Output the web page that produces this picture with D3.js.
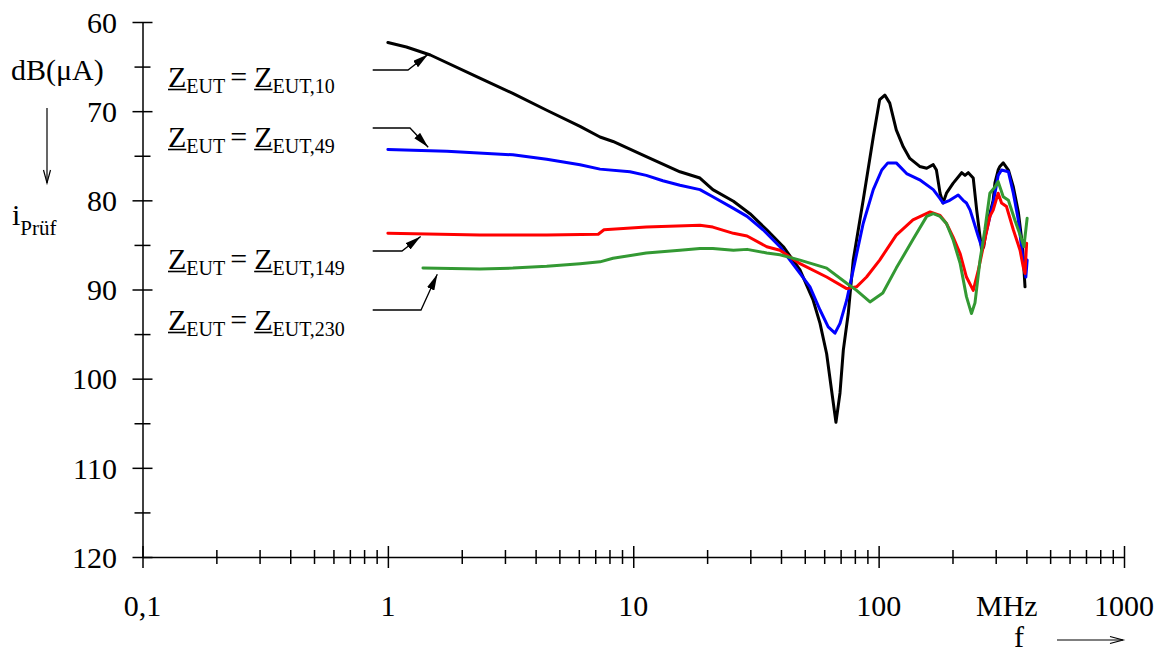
<!DOCTYPE html>
<html>
<head>
<meta charset="utf-8">
<script src="https://cdn.jsdelivr.net/npm/d3@7"></script>
<style>
  html, body { margin: 0; padding: 0; background: #fff; }
  svg { display: block; }
  text { font-family: "Liberation Serif", "Times New Roman", serif; fill: #000; }
</style>
</head>
<body>
<svg id="chart" width="1165" height="654"></svg>
<script>
// ---- Axis ticks -----------------------------------------------------------
const freqMajor = [0.1, 1, 10, 100, 1000];
const freqLabels = ["0,1", "1", "10", "100", "1000"];
const levelMajor = [60, 70, 80, 90, 100, 110, 120];
const levelMinor = [65, 75, 85, 95, 105, 115];

// ---- Measured test current i_Prüf in dB(µA) versus frequency in MHz -------
// Z_EUT = Z_EUT,10
const freqZ10 = [1.0, 1.19, 1.49, 2.37, 3.23, 4.44, 6.07, 7.32, 8.27, 11.3, 15.5, 18.7, 21.1, 25.6, 29.9,
  35.0, 40.9, 47.8, 54.1, 57.7, 61.4, 64.3, 67.0, 69.6, 71.8, 75.2, 78.8, 86.5, 95.1, 101, 106, 111, 118,
  126, 134, 147, 157, 167, 172, 178, 183, 189, 201, 218, 225, 232, 243, 251, 259, 263, 268, 276, 284, 293,
  298, 307, 312, 322, 338, 354, 371, 386, 395];
const levelZ10 = [62.3, 62.8, 63.7, 66.3, 68.0, 69.9, 71.7, 72.9, 73.4, 75.1, 76.8, 77.5, 78.8, 80.1, 81.5,
  83.3, 85.2, 87.8, 91.2, 93.8, 97.2, 101.3, 104.9, 101.6, 96.8, 92.7, 86.7, 80.0, 72.9, 68.7, 68.2, 69.1, 72.1,
  74.0, 75.3, 76.2, 76.4, 76.0, 76.6, 79.2, 80.3, 79.2, 78.1, 76.9, 77.2, 76.9, 77.5, 81.1, 84.1, 85.6, 85.2, 83.0, 81.5, 80.0,
  78.0, 76.6, 76.2, 75.8, 76.6, 78.5, 81.3, 85.2, 89.7];

// Z_EUT = Z_EUT,49
const freqZ49 = [1.0, 1.74, 3.23, 4.44, 6.07, 7.32, 9.70, 11.3, 13.2, 15.5, 18.7, 21.1, 25.6, 29.1, 33.8,
  39.6, 47.8, 52.5, 57.7, 62.3, 66.4, 69.6, 74.1, 78.8, 86.5, 95.1, 103, 109, 118, 130, 147, 167, 178, 183,
  195, 211, 221, 228, 236, 243, 255, 263, 276, 293, 307, 317, 338, 354, 371, 388, 398, 403];
const levelZ49 = [74.3, 74.5, 74.9, 75.4, 76.0, 76.5, 76.8, 77.2, 77.8, 78.3, 78.8, 79.6, 80.9, 81.8, 83.3,
  85.2, 88.2, 89.7, 92.3, 94.2, 94.9, 93.8, 91.2, 87.8, 82.6, 78.8, 76.6, 75.8, 75.8, 77.0, 77.7, 78.8, 79.8, 80.3,
  80.0, 79.4, 80.0, 80.3, 81.1, 82.2, 84.1, 85.2, 83.3, 80.3, 77.2, 76.6, 76.8, 79.2, 82.2, 86.7, 88.6, 86.7];

// Z_EUT = Z_EUT,149
const freqZ149 = [1.0, 2.37, 4.44, 7.2, 7.6, 11.3, 18.7, 21.1, 25.6, 29.1, 35.0, 39.6, 47.8, 61.4, 74.1,
  81.3, 89.3, 101, 118, 138, 162, 178, 189, 201, 215, 228, 243, 255, 267, 284, 293, 307, 317, 332, 354,
  377, 388, 395, 401];
const levelZ149 = [83.7, 83.9, 83.9, 83.8, 83.3, 83.0, 82.8, 83.0, 83.7, 84.0, 85.2, 85.6, 87.1, 88.6, 89.9,
  89.7, 88.6, 86.7, 83.9, 82.2, 81.3, 81.7, 82.6, 84.1, 86.0, 88.6, 90.1, 87.8, 85.2, 81.8, 81.1, 79.2, 80.3, 80.7, 83.3,
  85.6, 87.4, 88.2, 84.8];

// Z_EUT = Z_EUT,230
const freqZ230 = [1.39, 2.37, 3.23, 4.44, 6.07, 7.32, 8.27, 11.3, 15.5, 18.7, 21.1, 25.6, 29.1, 35.0, 39.6,
  47.8, 61.4, 74.1, 81.3, 92.2, 104, 118, 138, 157, 167, 178, 189, 201, 215, 228, 239, 247, 259, 271, 284,
  298, 307, 322, 338, 359, 383, 391, 403];
const levelZ230 = [87.6, 87.7, 87.6, 87.4, 87.1, 86.9, 86.5, 85.9, 85.6, 85.4, 85.4, 85.6, 85.5, 85.9, 86.1,
  86.7, 87.6, 89.3, 90.1, 91.4, 90.4, 87.6, 84.4, 81.8, 81.5, 81.8, 82.6, 84.4, 87.1, 90.8, 92.7, 91.5, 86.7, 83.3, 79.2,
  78.5, 77.9, 79.6, 80.0, 82.2, 84.4, 85.2, 82.0];

const seriesNames = ["10", "49", "149", "230"];
const seriesColors = ["#000000", "#0000ff", "#ff0000", "#339933"];
const seriesFreq = [freqZ10, freqZ49, freqZ149, freqZ230];
const seriesLevel = [levelZ10, levelZ49, levelZ149, levelZ230];

// Leader arrows: frequency where each arrow meets its trace
const arrowFreq = [1.46, 1.46, 1.36, 1.59];

// ---- Scales ---------------------------------------------------------------
const svg = d3.select("#chart");
const x = d3.scaleLog().domain([0.1, 1000]).range([142.5, 1124]);
const y = d3.scaleLinear().domain([60, 120]).range([22, 557]);

const axisColor = "#000";

// ---- X axis (log, ticks crossing the line) --------------------------------
const xMinor = [];
freqMajor.slice(0, -1).forEach(d => d3.range(2, 10).forEach(k => xMinor.push(d * k)));

const gx = svg.append("g").attr("transform", `translate(0,${y(120)})`);
gx.call(d3.axisBottom(x).tickValues(freqMajor).tickSize(11).tickSizeOuter(0).tickFormat(""));
gx.selectAll(".tick line").attr("y1", -11);
const gxm = svg.append("g").attr("transform", `translate(0,${y(120)})`);
gxm.call(d3.axisBottom(x).tickValues(xMinor).tickSize(7).tickSizeOuter(0).tickFormat(""));
gxm.select(".domain").remove();
gxm.selectAll(".tick line").attr("y1", -7);

svg.selectAll(".xlab").data(freqMajor).enter().append("text")
  .attr("class", "xlab")
  .attr("x", d => x(d)).attr("y", 616)
  .attr("text-anchor", "middle").attr("font-size", 30)
  .text((d, i) => freqLabels[i]);

svg.append("text").attr("x", 976).attr("y", 616).attr("font-size", 30).text("MHz");
svg.append("text").attr("x", 1014).attr("y", 647).attr("font-size", 30).text("f");
svg.append("line").attr("x1", 1057).attr("x2", 1123).attr("y1", 640).attr("y2", 640)
  .attr("stroke", axisColor).attr("stroke-width", 1.2);
svg.append("path").attr("d", "M1110,636.5L1123,640L1110,643.5")
  .attr("fill", "none").attr("stroke", axisColor).attr("stroke-width", 1.2);

// ---- Y axis (inverted: 60 on top, 120 at the bottom) ----------------------
const gy = svg.append("g").attr("transform", `translate(${x(0.1)},0)`);
gy.call(d3.axisLeft(y).tickValues(levelMajor).tickSize(10).tickSizeOuter(0).tickFormat(""));
gy.selectAll(".tick line").attr("x1", 10);
const gym = svg.append("g").attr("transform", `translate(${x(0.1)},0)`);
gym.call(d3.axisLeft(y).tickValues(levelMinor).tickSize(8).tickSizeOuter(0).tickFormat(""));
gym.select(".domain").remove();
gym.selectAll(".tick line").attr("x1", 8);

svg.selectAll(".ylab").data(levelMajor).enter().append("text")
  .attr("class", "ylab")
  .attr("x", 117).attr("y", d => y(d)).attr("dy", "0.36em")
  .attr("text-anchor", "end").attr("font-size", 30)
  .text(d => d);

[gx, gxm, gy, gym].forEach(g => {
  g.selectAll("path, line").attr("stroke", axisColor).attr("stroke-width", 1.5);
});

// Axis title
svg.append("text").attr("x", 11).attr("y", 80).attr("font-size", 30).text("dB(\u03BCA)");
svg.append("line").attr("x1", 47).attr("x2", 47).attr("y1", 108).attr("y2", 183)
  .attr("stroke", axisColor).attr("stroke-width", 1.2);
svg.append("path").attr("d", "M43.5,170L47,183L50.5,170")
  .attr("fill", "none").attr("stroke", axisColor).attr("stroke-width", 1.2);
const ti = svg.append("text").attr("x", 12).attr("y", 225).attr("font-size", 30);
ti.append("tspan").text("i");
ti.append("tspan").attr("font-size", 21).attr("dy", 10).text("Pr\u00FCf");

// ---- Traces ---------------------------------------------------------------
const line = d3.line().x(d => x(d[0])).y(d => y(d[1])).curve(d3.curveLinear);
seriesFreq.forEach((fr, i) => {
  const pts = fr.map((f, j) => [f, seriesLevel[i][j]]);
  svg.append("path")
    .attr("d", line(pts))
    .attr("fill", "none")
    .attr("stroke", seriesColors[i])
    .attr("stroke-width", 3)
    .attr("stroke-linejoin", "round")
    .attr("stroke-linecap", "round");
});

// ---- Curve labels with leader arrows --------------------------------------
svg.append("defs").append("marker")
  .attr("id", "head").attr("viewBox", "0 0 16 8")
  .attr("refX", 16).attr("refY", 4)
  .attr("markerWidth", 16).attr("markerHeight", 8)
  .attr("markerUnits", "userSpaceOnUse").attr("orient", "auto")
  .append("path").attr("d", "M0,0L16,4L0,8Z").attr("fill", "#000");

const labelBase = [87, 147, 269, 330];
const leaderY = [70, 128, 251, 310];
const leaderBend = [408, 410, 402, 421];
const tipShift = [0, -3.5, 2.5, 6];

function levelAt(i, f) {
  const fr = seriesFreq[i], lv = seriesLevel[i];
  const k = Math.max(1, d3.bisectLeft(fr, f));
  const t = (Math.log(f) - Math.log(fr[k - 1])) / (Math.log(fr[k]) - Math.log(fr[k - 1]));
  return lv[k - 1] + t * (lv[k] - lv[k - 1]);
}

seriesNames.forEach((name, i) => {
  const t = svg.append("text").attr("x", 168).attr("y", labelBase[i]).attr("font-size", 30);
  t.append("tspan").text("Z");
  t.append("tspan").attr("font-size", 20).attr("dy", 5.5).text("EUT");
  t.append("tspan").attr("dy", -5.5).attr("dx", 5).text("=");
  t.append("tspan").attr("dx", 7).text("Z");
  t.append("tspan").attr("font-size", 20).attr("dy", 5.5).text("EUT," + name);
  const node = t.node();
  [0, 5].forEach(ci => {
    const s = node.getStartPositionOfChar(ci).x;
    const e = node.getEndPositionOfChar(ci).x;
    svg.append("line").attr("x1", s).attr("x2", e)
      .attr("y1", labelBase[i] + 2.5).attr("y2", labelBase[i] + 2.5)
      .attr("stroke", "#000").attr("stroke-width", 1.6);
  });

  const tx = x(arrowFreq[i]);
  const ty = y(levelAt(i, arrowFreq[i])) + tipShift[i];
  svg.append("path")
    .attr("d", `M372.7,${leaderY[i]}H${leaderBend[i]}L${tx},${ty}`)
    .attr("fill", "none").attr("stroke", "#000").attr("stroke-width", 1.3)
    .attr("marker-end", "url(#head)");
});
</script>
</body>
</html>
